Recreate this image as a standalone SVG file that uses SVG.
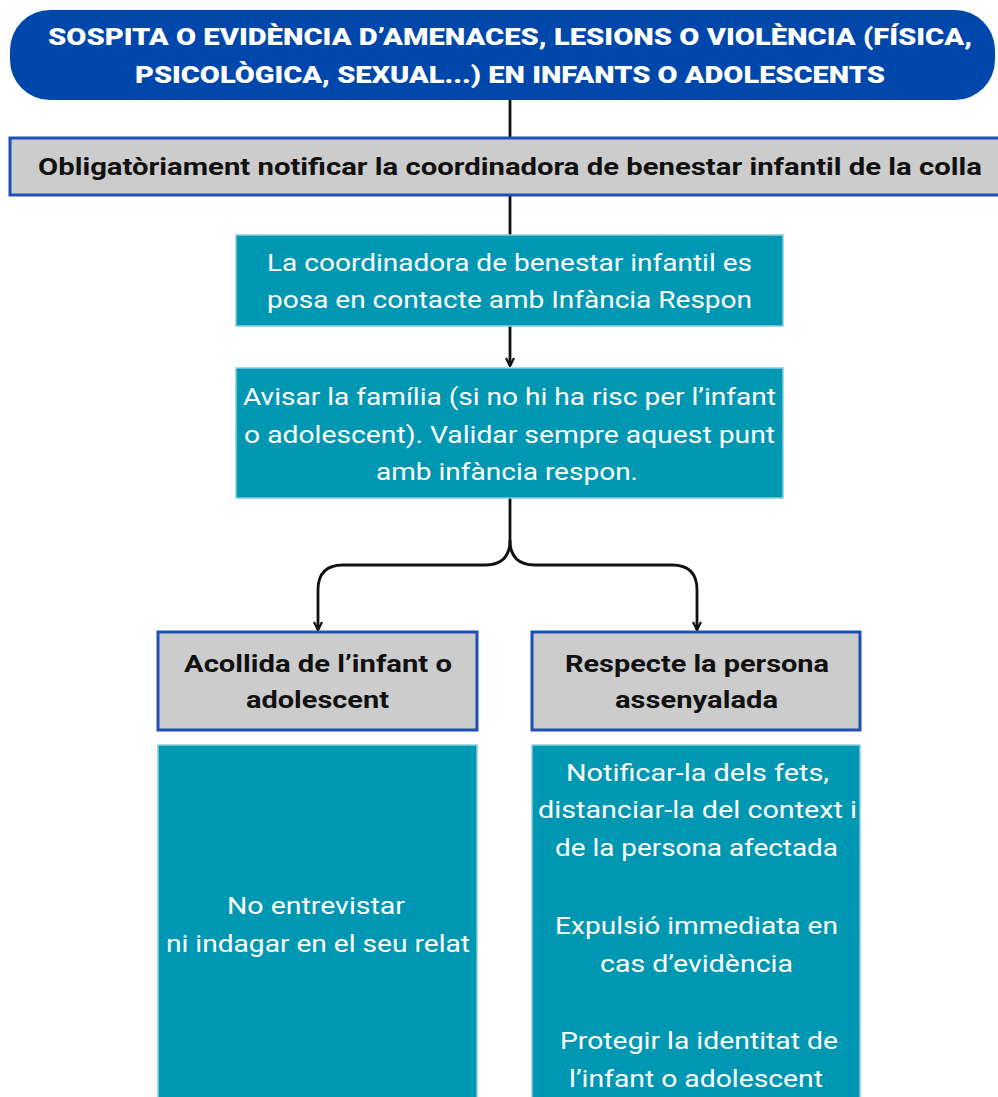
<svg xmlns="http://www.w3.org/2000/svg" width="998" height="1097" viewBox="0 0 998 1097">
<defs>
<marker id="arr" viewBox="0 0 10 10" refX="9" refY="5" markerWidth="10" markerHeight="10" markerUnits="userSpaceOnUse" orient="auto">
<path d="M1,1 L9,5 L1,9" fill="none" stroke="#111" stroke-width="2.2"/>
</marker>
<style>
.title{fill:#0047ab}
.gray{fill:#cccccc;stroke:#1e4fb4;stroke-width:3}
.teal{fill:#0097b2;stroke:#86cfdc;stroke-width:1.5}
.tw{font-family:"Roboto","Liberation Sans",sans-serif;font-weight:900;font-size:23px;fill:#ffffff;text-anchor:middle}
.tb{font-family:"Roboto","Liberation Sans",sans-serif;font-weight:bold;font-size:23px;fill:#111111;text-anchor:middle}
.tt{font-family:"Roboto","Liberation Sans",sans-serif;font-size:24px;fill:#ffffff;text-anchor:middle}
.conn{fill:none;stroke:#111111;stroke-width:2.8}
</style>
</defs>
<rect width="998" height="1097" fill="#ffffff"/>
<g id="connectors">
<line class="conn" x1="510" y1="100" x2="510" y2="138"/>
<line class="conn" x1="510" y1="195" x2="510" y2="235"/>
<line class="conn" x1="510" y1="326" x2="510" y2="366" marker-end="url(#arr)"/>
<path class="conn" d="M510,498 L510,540 Q510,565 485,565 L343,565 Q318,565 318,590 L318,630" marker-end="url(#arr)"/>
<path class="conn" d="M510,540 Q510,565 535,565 L672,565 Q697,565 697,590 L697,630" marker-end="url(#arr)"/>
</g>
<g id="n-title">
<rect class="title" x="10" y="10" width="985" height="90" rx="40" ry="40"/>
<text class="tw" x="510" y="45" textLength="924" lengthAdjust="spacingAndGlyphs">SOSPITA O EVIDÈNCIA D’AMENACES, LESIONS O VIOLÈNCIA (FÍSICA,</text>
<text class="tw" x="510" y="83" textLength="750" lengthAdjust="spacingAndGlyphs">PSICOLÒGICA, SEXUAL...) EN INFANTS O ADOLESCENTS</text>
</g>
<g id="n-notificar">
<rect class="gray" x="10" y="138" width="990" height="57"/>
<text class="tb" x="510" y="175" textLength="944" lengthAdjust="spacingAndGlyphs">Obligatòriament notificar la coordinadora de benestar infantil de la colla</text>
</g>
<g id="n-coordinadora">
<rect class="teal" x="236" y="235" width="547" height="91"/>
<text class="tt" x="509.5" y="271" textLength="485" lengthAdjust="spacingAndGlyphs">La coordinadora de benestar infantil es</text>
<text class="tt" x="509.5" y="308" textLength="485" lengthAdjust="spacingAndGlyphs">posa en contacte amb Infància Respon</text>
</g>
<g id="n-familia">
<rect class="teal" x="236" y="368" width="547" height="130"/>
<text class="tt" x="509.5" y="405" textLength="533" lengthAdjust="spacingAndGlyphs">Avisar la família (si no hi ha risc per l’infant</text>
<text class="tt" x="509.5" y="443" textLength="531" lengthAdjust="spacingAndGlyphs">o adolescent). Validar sempre aquest punt</text>
<text class="tt" x="507" y="480" textLength="262" lengthAdjust="spacingAndGlyphs">amb infància respon.</text>
</g>
<g id="n-acollida">
<rect class="gray" x="158" y="632" width="319" height="98"/>
<text class="tb" x="318" y="672" textLength="268" lengthAdjust="spacingAndGlyphs">Acollida de l’infant o</text>
<text class="tb" x="317.5" y="708" textLength="143" lengthAdjust="spacingAndGlyphs">adolescent</text>
</g>
<g id="n-respecte">
<rect class="gray" x="532" y="632" width="328" height="98"/>
<text class="tb" x="697" y="672" textLength="264" lengthAdjust="spacingAndGlyphs">Respecte la persona</text>
<text class="tb" x="696.5" y="708" textLength="163" lengthAdjust="spacingAndGlyphs">assenyalada</text>
</g>
<g id="n-entrevistar">
<rect class="teal" x="158" y="745" width="319" height="360"/>
<text class="tt" x="316" y="914" textLength="178" lengthAdjust="spacingAndGlyphs">No entrevistar</text>
<text class="tt" x="318" y="952" textLength="304" lengthAdjust="spacingAndGlyphs">ni indagar en el seu relat</text>
</g>
<g id="n-mesures">
<rect class="teal" x="532" y="745" width="328" height="360"/>
<text class="tt" x="697.5" y="781" textLength="263" lengthAdjust="spacingAndGlyphs">Notificar-la dels fets,</text>
<text class="tt" x="697.5" y="818" textLength="319" lengthAdjust="spacingAndGlyphs">distanciar-la del context i</text>
<text class="tt" x="696.5" y="856" textLength="283" lengthAdjust="spacingAndGlyphs">de la persona afectada</text>
<text class="tt" x="696.5" y="934" textLength="283" lengthAdjust="spacingAndGlyphs">Expulsió immediata en</text>
<text class="tt" x="696.5" y="972" textLength="193" lengthAdjust="spacingAndGlyphs">cas d’evidència</text>
<text class="tt" x="699" y="1049" textLength="278" lengthAdjust="spacingAndGlyphs">Protegir la identitat de</text>
<text class="tt" x="696" y="1087" textLength="254" lengthAdjust="spacingAndGlyphs">l’infant o adolescent</text>
</g>
</svg>
